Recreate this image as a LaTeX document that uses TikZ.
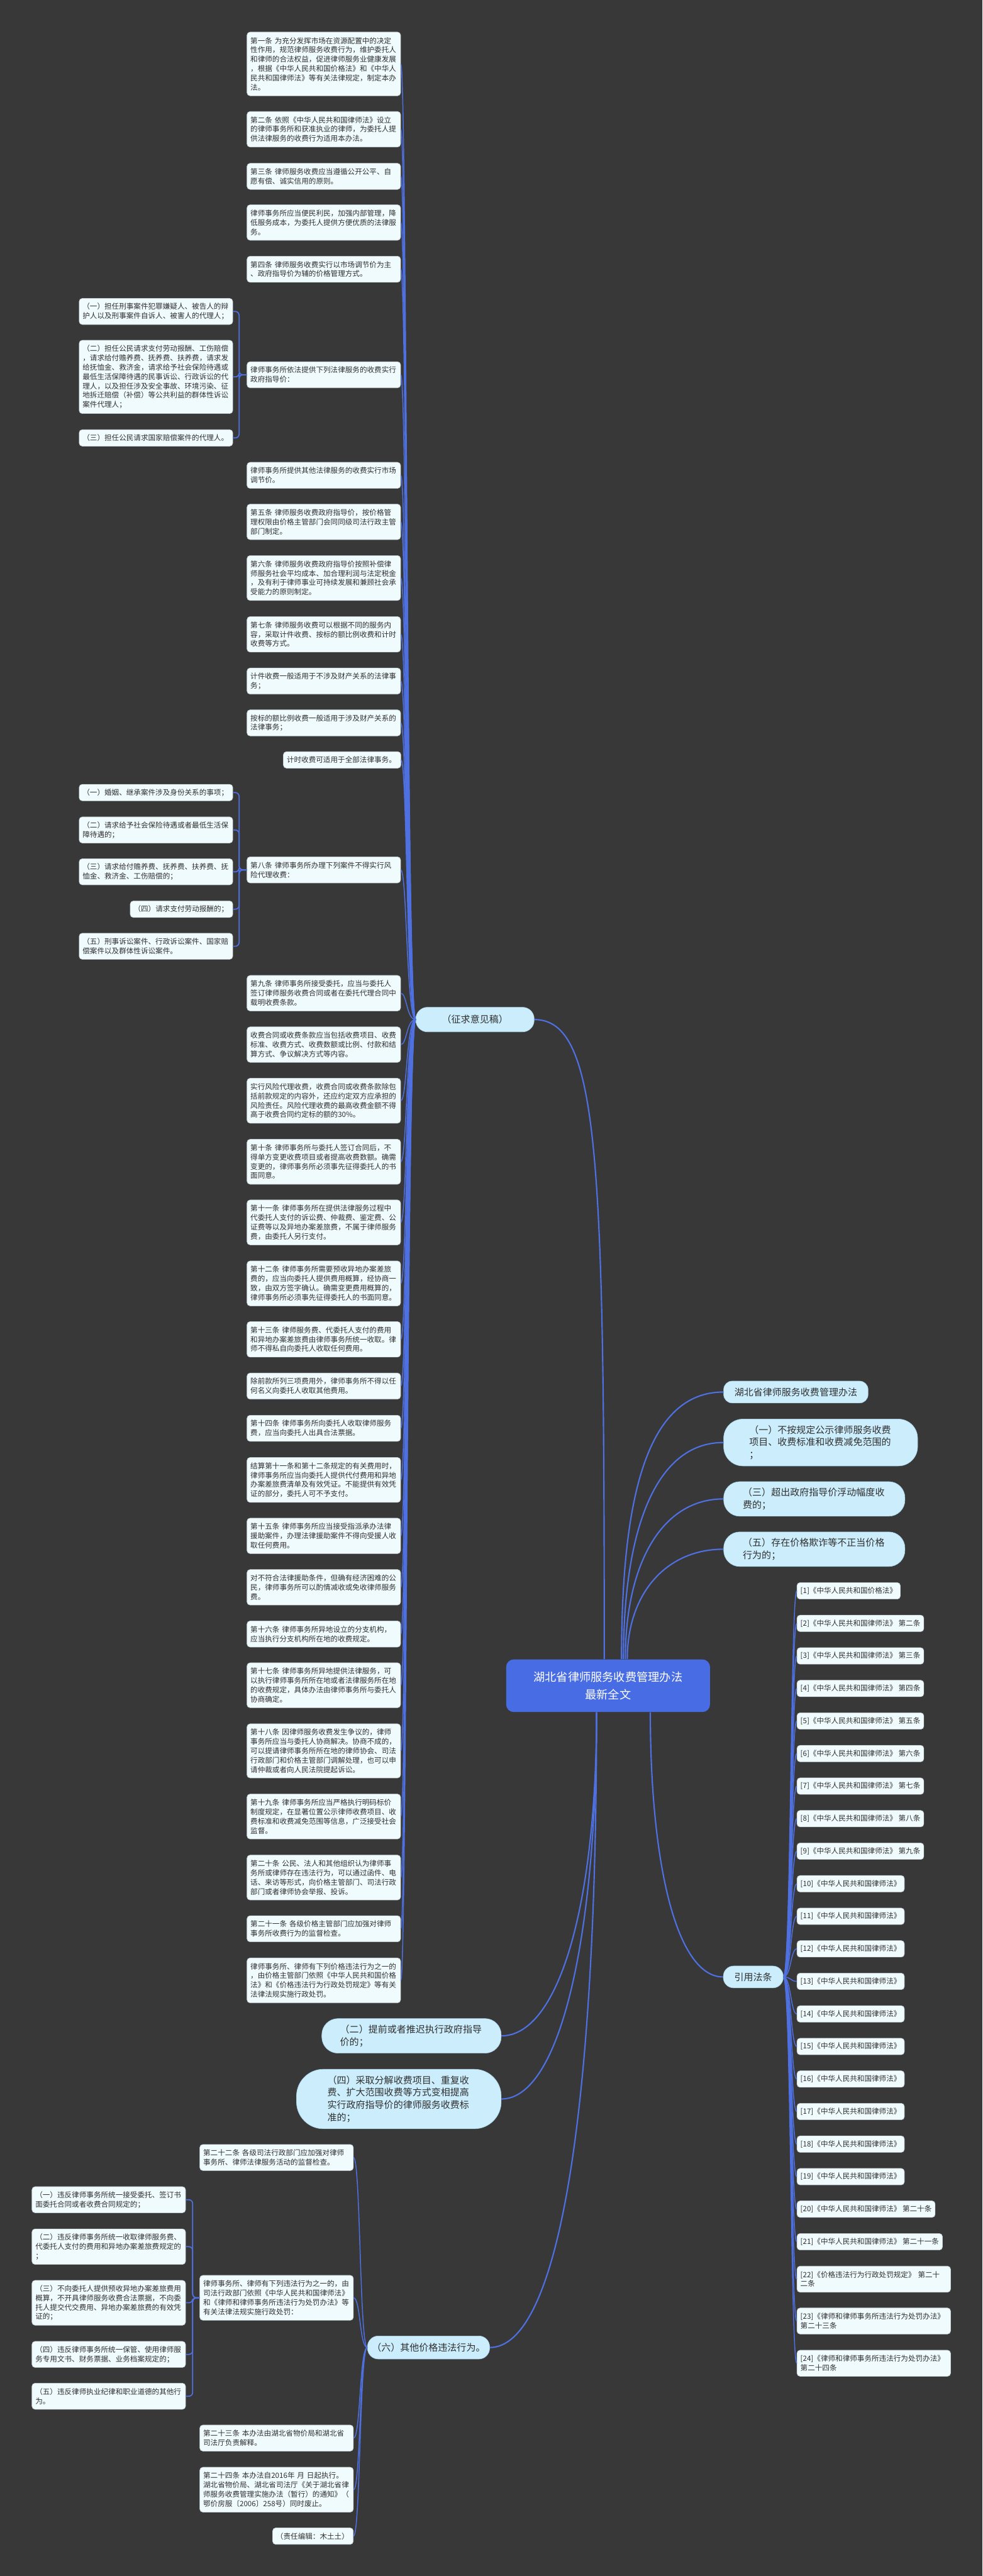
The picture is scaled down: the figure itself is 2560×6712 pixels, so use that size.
\documentclass[tikz,border=0pt]{standalone}
\usepackage{fontspec}
\setmainfont{Noto Sans CJK SC}
\usepackage{tikz}
\usetikzlibrary{positioning}
\definecolor{Canvas}{RGB}{56,56,56}
\definecolor{Wire}{RGB}{78,112,224}
\definecolor{NoteFill}{RGB}{240,251,253}
\definecolor{NoteEdge}{RGB}{196,206,212}
\definecolor{TopicFill}{RGB}{204,238,252}
\definecolor{TopicEdge}{RGB}{170,210,232}
\definecolor{RootFill}{RGB}{72,108,228}
\definecolor{Ink}{RGB}{48,48,48}

\begin{document}
\begin{tikzpicture}[
  x=0.01cm, y=-0.01cm,
  box/.style={
    draw=NoteEdge,
    line width=0.3pt,
    fill=NoteFill,
    rounded corners=0.08cm,
    text=Ink,
    font=\fontsize{5.4pt}{6.9pt}\selectfont,
    inner xsep=0.09cm,
    inner ysep=0.04cm
  },
  note/.style={box, anchor=north west, text width=3.82cm, align=left},
  cite/.style={box, anchor=north west, minimum height=0.43cm},
  topic/.style={
    draw=TopicEdge,
    line width=0.3pt,
    fill=TopicFill,
    anchor=north west,
    text=Ink,
    align=left,
    font=\fontsize{7pt}{9.24pt}\selectfont,
    inner sep=0.05cm
  },
  root/.style={
    fill=RootFill,
    rounded corners=0.2cm,
    anchor=north west,
    text=white,
    align=center,
    font=\fontsize{8.5pt}{13pt}\selectfont,
    minimum width=5.31cm,
    minimum height=1.37cm
  },
  ln1/.style={minimum height=0.43cm},
  ln2/.style={minimum height=0.68cm},
  ln3/.style={minimum height=0.925cm},
  ln4/.style={minimum height=1.17cm},
  ln5/.style={minimum height=1.41cm},
  ln6/.style={minimum height=1.66cm},
  ln7/.style={minimum height=1.91cm},
  limb/.style={draw=Wire, line width=1pt},
  wire/.style={draw=Wire, line width=0.7pt},
  twig/.style={draw=Wire, line width=0.8pt, rounded corners=0.1cm}
]
\def\XArt{643}
\def\XSub{607}
\def\XLate{520}
\def\XLateSub{484}
\def\XCite{2076}

\useasboundingbox (0,0) rectangle (2560,6712);
\fill[Canvas] (0,0) rectangle (2560,6712);

% centre and first-level topics
\node[root] (hub) at (1318,4323) {湖北省律师服务收费管理办法\\最新全文};
\node[topic, minimum width=3.08cm, minimum height=0.64cm, rounded corners=0.3cm, align=center] (zq) at (1083,2624) {（征求意见稿）};
\node[topic, minimum width=3.76cm, minimum height=0.57cm, rounded corners=0.22cm] (r1) at (1885,3598) {湖北省律师服务收费管理办法};
\node[topic, text width=3.72cm, minimum width=5.05cm, minimum height=1.22cm, rounded corners=0.5cm] (r2) at (1885,3697)
{（一）不按规定公示律师服务收费\\项目、收费标准和收费减免范围的\\；};
\node[topic, text width=3.72cm, minimum width=4.72cm, minimum height=0.90cm, rounded corners=0.42cm] (r3) at (1885,3860)
{（三）超出政府指导价浮动幅度收\\费的；};
\node[topic, text width=3.72cm, minimum width=4.72cm, minimum height=0.90cm, rounded corners=0.42cm] (r4) at (1885,3991)
{（五）存在价格欺诈等不正当价格\\行为的；};
\node[topic, minimum width=1.56cm, minimum height=0.57cm, rounded corners=0.27cm, align=center] (refs) at (1884,5122) {引用法条};
\node[topic, text width=3.72cm, minimum width=4.67cm, minimum height=0.90cm, rounded corners=0.42cm] (l2) at (838,5259)
{（二）提前或者推迟执行政府指导\\价的；};
\node[topic, text width=3.72cm, minimum width=5.33cm, minimum height=1.55cm, rounded corners=0.7cm] (l3) at (772,5391)
{（四）采取分解收费项目、重复收\\费、扩大范围收费等方式变相提高\\实行政府指导价的律师服务收费标\\准的；};
\node[topic, minimum width=3.18cm, minimum height=0.60cm, rounded corners=0.28cm, align=center] (six) at (957,6086) {（六）其他价格违法行为。};

% articles of the draft
\node[note, ln6] (a1) at (\XArt,83) {第一条 为充分发挥市场在资源配置中的决定\\性作用，规范律师服务收费行为，维护委托人\\和律师的合法权益，促进律师服务业健康发展\\，根据《中华人民共和国价格法》和《中华人\\民共和国律师法》等有关法律规定，制定本办\\法。};
\node[note, ln3] (a2) at (\XArt,290) {第二条 依照《中华人民共和国律师法》设立\\的律师事务所和获准执业的律师，为委托人提\\供法律服务的收费行为适用本办法。};
\node[note, ln2] (a3) at (\XArt,425) {第三条 律师服务收费应当遵循公开公平、自\\愿有偿、诚实信用的原则。};
\node[note, ln3] (a4) at (\XArt,533) {律师事务所应当便民利民，加强内部管理，降\\低服务成本，为委托人提供方便优质的法律服\\务。};
\node[note, ln2] (a5) at (\XArt,667) {第四条 律师服务收费实行以市场调节价为主\\、政府指导价为辅的价格管理方式。};
\node[note, ln2] (a6) at (\XArt,942) {律师事务所依法提供下列法律服务的收费实行\\政府指导价：};
\node[note, ln2] (a7) at (\XArt,1204) {律师事务所提供其他法律服务的收费实行市场\\调节价。};
\node[note, ln3] (a8) at (\XArt,1313) {第五条 律师服务收费政府指导价，按价格管\\理权限由价格主管部门会同同级司法行政主管\\部门制定。};
\node[note, ln4] (a9) at (\XArt,1447) {第六条 律师服务收费政府指导价按照补偿律\\师服务社会平均成本、加合理利润与法定税金\\，及有利于律师事业可持续发展和兼顾社会承\\受能力的原则制定。};
\node[note, ln3] (a10) at (\XArt,1606) {第七条 律师服务收费可以根据不同的服务内\\容，采取计件收费、按标的额比例收费和计时\\收费等方式。};
\node[note, ln2] (a11) at (\XArt,1740) {计件收费一般适用于不涉及财产关系的法律事\\务；};
\node[note, ln2] (a12) at (\XArt,1849) {按标的额比例收费一般适用于涉及财产关系的\\法律事务；};
\node[note, ln1, anchor=north east, text width=2.88cm] (a13) at (1045,1958) {计时收费可适用于全部法律事务。};
\node[note, ln2] (a14) at (\XArt,2232) {第八条 律师事务所办理下列案件不得实行风\\险代理收费：};
\node[note, ln3] (a15) at (\XArt,2541) {第九条 律师事务所接受委托，应当与委托人\\签订律师服务收费合同或者在委托代理合同中\\载明收费条款。};
\node[note, ln3] (a16) at (\XArt,2675) {收费合同或收费条款应当包括收费项目、收费\\标准、收费方式、收费数额或比例、付款和结\\算方式、争议解决方式等内容。};
\node[note, ln4] (a17) at (\XArt,2809) {实行风险代理收费，收费合同或收费条款除包\\括前款规定的内容外，还应约定双方应承担的\\风险责任。风险代理收费的最高收费金额不得\\高于收费合同约定标的额的30\%。};
\node[note, ln4] (a18) at (\XArt,2968) {第十条 律师事务所与委托人签订合同后，不\\得单方变更收费项目或者提高收费数额。确需\\变更的，律师事务所必须事先征得委托人的书\\面同意。};
\node[note, ln4] (a19) at (\XArt,3126) {第十一条 律师事务所在提供法律服务过程中\\代委托人支付的诉讼费、仲裁费、鉴定费、公\\证费等以及异地办案差旅费，不属于律师服务\\费，由委托人另行支付。};
\node[note, ln4] (a20) at (\XArt,3285) {第十二条 律师事务所需要预收异地办案差旅\\费的，应当向委托人提供费用概算，经协商一\\致，由双方签字确认。确需变更费用概算的，\\律师事务所必须事先征得委托人的书面同意。};
\node[note, ln3] (a21) at (\XArt,3443) {第十三条 律师服务费、代委托人支付的费用\\和异地办案差旅费由律师事务所统一收取。律\\师不得私自向委托人收取任何费用。};
\node[note, ln2] (a22) at (\XArt,3577) {除前款所列三项费用外，律师事务所不得以任\\何名义向委托人收取其他费用。};
\node[note, ln2] (a23) at (\XArt,3687) {第十四条 律师事务所向委托人收取律师服务\\费，应当向委托人出具合法票据。};
\node[note, ln4] (a24) at (\XArt,3797) {结算第十一条和第十二条规定的有关费用时，\\律师事务所应当向委托人提供代付费用和异地\\办案差旅费清单及有效凭证。不能提供有效凭\\证的部分，委托人可不予支付。};
\node[note, ln3] (a25) at (\XArt,3955) {第十五条 律师事务所应当接受指派承办法律\\援助案件，办理法律援助案件不得向受援人收\\取任何费用。};
\node[note, ln3] (a26) at (\XArt,4089) {对不符合法律援助条件，但确有经济困难的公\\民，律师事务所可以酌情减收或免收律师服务\\费。};
\node[note, ln2] (a27) at (\XArt,4223) {第十六条 律师事务所异地设立的分支机构，\\应当执行分支机构所在地的收费规定。};
\node[note, ln4] (a28) at (\XArt,4332) {第十七条 律师事务所异地提供法律服务，可\\以执行律师事务所所在地或者法律服务所在地\\的收费规定，具体办法由律师事务所与委托人\\协商确定。};
\node[note, ln5] (a29) at (\XArt,4491) {第十八条 因律师服务收费发生争议的，律师\\事务所应当与委托人协商解决。协商不成的，\\可以提请律师事务所所在地的律师协会、司法\\行政部门和价格主管部门调解处理，也可以申\\请仲裁或者向人民法院提起诉讼。};
\node[note, ln4] (a30) at (\XArt,4674) {第十九条 律师事务所应当严格执行明码标价\\制度规定，在显著位置公示律师收费项目、收\\费标准和收费减免范围等信息，广泛接受社会\\监督。};
\node[note, ln4] (a31) at (\XArt,4833) {第二十条 公民、法人和其他组织认为律师事\\务所或律师存在违法行为，可以通过函件、电\\话、来访等形式，向价格主管部门、司法行政\\部门或者律师协会举报、投诉。};
\node[note, ln2] (a32) at (\XArt,4991) {第二十一条 各级价格主管部门应加强对律师\\事务所收费行为的监督检查。};
\node[note, ln4] (a33) at (\XArt,5101) {律师事务所、律师有下列价格违法行为之一的\\，由价格主管部门依照《中华人民共和国价格\\法》和《价格违法行为行政处罚规定》等有关\\法律法规实施行政处罚。};

% items under a6
\node[note, ln2, anchor=north east] (s1) at (\XSub,777) {（一）担任刑事案件犯罪嫌疑人、被告人的辩\\护人以及刑事案件自诉人、被害人的代理人；};
\node[note, ln7, anchor=north east] (s2) at (\XSub,886) {（二）担任公民请求支付劳动报酬、工伤赔偿\\，请求给付赡养费、抚养费、扶养费，请求发\\给抚恤金、救济金，请求给予社会保险待遇或\\最低生活保障待遇的民事诉讼、行政诉讼的代\\理人，以及担任涉及安全事故、环境污染、征\\地拆迁赔偿（补偿）等公共利益的群体性诉讼\\案件代理人；};
\node[note, ln1, anchor=north east] (s3) at (\XSub,1119) {（三）担任公民请求国家赔偿案件的代理人。};

% items under a14
\node[note, ln1, anchor=north east] (t1) at (\XSub,2043) {（一）婚姻、继承案件涉及身份关系的事项；};
\node[note, ln2, anchor=north east] (t2) at (\XSub,2128) {（二）请求给予社会保险待遇或者最低生活保\\障待遇的；};
\node[note, ln2, anchor=north east] (t3) at (\XSub,2237) {（三）请求给付赡养费、抚养费、扶养费、抚\\恤金、救济金、工伤赔偿的；};
\node[note, ln1, anchor=north east, text width=2.49cm] (t4) at (\XSub,2347) {（四）请求支付劳动报酬的；};
\node[note, ln2, anchor=north east] (t5) at (\XSub,2431) {（五）刑事诉讼案件、行政诉讼案件、国家赔\\偿案件以及群体性诉讼案件。};

% articles under (six)
\node[note, ln2] (b1) at (\XLate,5587) {第二十二条 各级司法行政部门应加强对律师\\事务所、律师法律服务活动的监督检查。};
\node[note, ln4] (b2) at (\XLate,5928) {律师事务所、律师有下列违法行为之一的，由\\司法行政部门依照《中华人民共和国律师法》\\和《律师和律师事务所违法行为处罚办法》等\\有关法律法规实施行政处罚：};
\node[note, ln2] (b3) at (\XLate,6318) {第二十三条 本办法由湖北省物价局和湖北省\\司法厅负责解释。};
\node[note, ln4] (b4) at (\XLate,6428) {第二十四条 本办法自2016年 月 日起执行。\\湖北省物价局、湖北省司法厅《关于湖北省律\\师服务收费管理实施办法（暂行）的通知》（\\鄂价房服〔2006〕258号）同时废止。};
\node[note, ln1, anchor=north east, text width=1.92cm] (b5) at (921,6586) {（责任编辑：木土土）};

% items under b2
\node[note, ln2, anchor=north east] (u1) at (\XLateSub,5697) {（一）违反律师事务所统一接受委托、签订书\\面委托合同或者收费合同规定的；};
\node[note, ln3, anchor=north east] (u2) at (\XLateSub,5807) {（二）违反律师事务所统一收取律师服务费、\\代委托人支付的费用和异地办案差旅费规定的\\；};
\node[note, ln4, anchor=north east] (u3) at (\XLateSub,5941) {（三）不向委托人提供预收异地办案差旅费用\\概算，不开具律师服务收费合法票据，不向委\\托人提交代交费用、异地办案差旅费的有效凭\\证的；};
\node[note, ln2, anchor=north east] (u4) at (\XLateSub,6100) {（四）违反律师事务所统一保管、使用律师服\\务专用文书、财务票据、业务档案规定的；};
\node[note, ln2, anchor=north east] (u5) at (\XLateSub,6209) {（五）违反律师执业纪律和职业道德的其他行\\为。};

% cited laws
\node[cite] (c1) at (\XCite,4123) {[1]《中华人民共和国价格法》};
\foreach \n/\tiao in {2/二,3/三,4/四,5/五,6/六,7/七,8/八,9/九}
  \node[cite] (c\n) at (\XCite,{4123+(\n-1)*84.8}) {[\n]《中华人民共和国律师法》 第\tiao 条};
\foreach \n in {10,...,19}
  \node[cite] (c\n) at (\XCite,{4123+(\n-1)*84.8}) {[\n]《中华人民共和国律师法》};
\node[cite] (c20) at (\XCite,5734) {[20]《中华人民共和国律师法》 第二十条};
\node[cite] (c21) at (\XCite,5819) {[21]《中华人民共和国律师法》 第二十一条};
\node[note, ln2] (c22) at (\XCite,5904) {[22]《价格违法行为行政处罚规定》 第二十\\二条};
\node[note, ln2] (c23) at (\XCite,6013) {[23]《律师和律师事务所违法行为处罚办法》\\ 第二十三条};
\node[note, ln2] (c24) at (\XCite,6123) {[24]《律师和律师事务所违法行为处罚办法》\\ 第二十四条};

% connectors from the centre
\draw[limb] ([xshift=-0.1cm]hub.north) .. controls +(0,-1300) and +(170,0) .. (zq.east);
\draw[limb] ([xshift=0.35cm]hub.north) .. controls +(0,-420) and +(-200,0) .. (r1.west);
\draw[limb] ([xshift=0.40cm]hub.north) .. controls +(0,-330) and +(-180,0) .. (r2.west);
\draw[limb] ([xshift=0.45cm]hub.north) .. controls +(0,-250) and +(-160,0) .. (r3.west);
\draw[limb] ([xshift=0.50cm]hub.north) .. controls +(0,-170) and +(-150,0) .. (r4.west);
\draw[limb] ([xshift=-0.3cm]hub.south) .. controls +(0,500) and +(150,0) .. (l2.east);
\draw[limb] ([xshift=-0.3cm]hub.south) .. controls +(0,600) and +(150,0) .. (l3.east);
\draw[limb] ([xshift=-0.3cm]hub.south) .. controls +(0,1100) and +(170,0) .. (six.east);
\draw[limb] ([xshift=1.1cm]hub.south) .. controls +(0,400) and +(-120,0) .. (refs.west);

% branches
\foreach \n in {1,...,33}
  \draw[wire] (zq.west) .. controls +(-24,0) and +(16,0) .. (a\n.east);
\foreach \n in {1,...,5}
  \draw[wire] (six.west) .. controls +(-20,0) and +(18,0) .. (b\n.east);
\foreach \n in {1,...,24}
  \draw[wire] (refs.east) .. controls +(20,0) and +(-16,0) .. (c\n.west);
\foreach \n in {1,2,3}
  \draw[twig] (a6.west) -- ++(-20,0) |- (s\n.east);
\foreach \n in {1,...,5}
  \draw[twig] (a14.west) -- ++(-20,0) |- (t\n.east);
\foreach \n in {1,...,5}
  \draw[twig] (b2.west) -- ++(-18,0) |- (u\n.east);
\end{tikzpicture}
\end{document}
